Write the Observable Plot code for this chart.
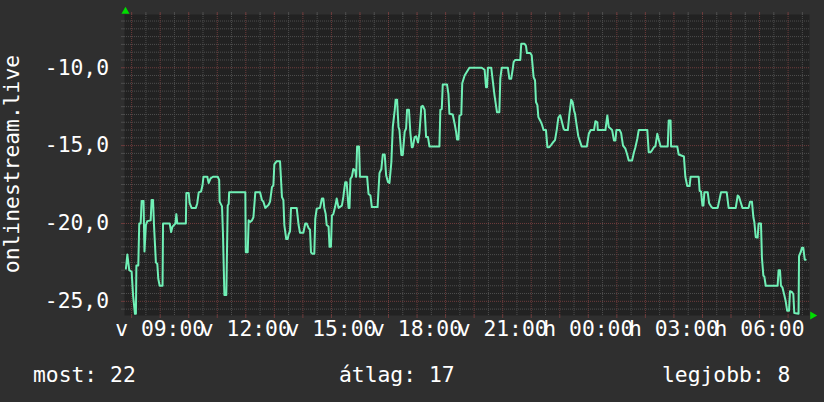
<!DOCTYPE html>
<html><head><meta charset="utf-8">
<script src="https://cdn.jsdelivr.net/npm/d3@7"></script>
<script src="https://cdn.jsdelivr.net/npm/@observablehq/plot@0.6"></script>
<style>
html,body{margin:0;padding:0;background:#2f2f2f;}
#wrap{position:relative;width:824px;height:402px;overflow:hidden;background:#2f2f2f;font-family:"DejaVu Sans Mono",monospace;color:#ffffff;}
#legend{position:relative;height:57px;}
#legend span{position:absolute;top:18px;font-size:21.33px;line-height:24px;white-space:pre;}
#ytitle{position:absolute;left:12px;top:163.5px;font-size:21.33px;line-height:24px;white-space:pre;transform:translate(-50%,-50%) rotate(-90deg);}
</style></head><body>
<div id="wrap"><div id="chart"></div><div id="legend"></div><div id="ytitle"></div></div>
<script>
// minutes since Sunday 07:45 (24 h window) and plotted value (negative rank)
const minutes = [3,6,10,15,18,22,24,25,29,31,34,36,40,42,45,48,55,57,60,62,66,69,71,74,80,81,95,98,101,107,109,111,129,130,135,137,141,150,153,156,161,164,166,174,177,181,186,196,199,200,205,207,210,214,217,219,220,254,
255,259,261,264,268,271,275,285,289,292,296,303,306,310,313,315,320,327,331,334,336,340,343,345,348,350,362,366,369,376,380,383,387,390,392,395,399,401,404,411,415,418,420,423,425,429,431,434,436,439,443,446,450,457,460,464,467,471,473,475,478,481,485,487,489,
493,495,510,513,517,520,532,536,540,543,547,550,554,557,561,564,568,570,573,576,578,582,585,589,592,594,598,601,604,606,610,613,617,620,624,627,631,634,638,641,662,664,667,669,678,681,683,690,694,697,699,702,704,708,710,715,725,
751,757,760,762,764,771,774,778,783,788,790,793,806,809,813,816,818,821,832,834,841,844,846,853,856,860,863,865,868,870,874,877,881,886,889,893,897,902,905,909,912,916,919,923,925,932,935,939,942,945,947,951,954,961,972,
976,980,987,990,994,995,1011,1015,1018,1025,1029,1032,1034,1041,1044,1048,1053,1057,1060,1067,1071,1074,1078,1081,1099,1102,1106,1109,1113,1116,1120,1123,1127,1142,1144,1148,1149,1162,1165,1176,1179,1183,1188,1190,1207,
1209,1212,1215,1217,1219,1226,1229,1233,1236,1247,1254,1266,1270,1285,1289,1292,1296,1299,1312,1315,1319,1322,1324,1327,1331,1333,1338,1340,1343,1345,1348,1373,1375,1378,1380,1383,1387,1390,1393,1397,1399,1403,1406,1408,1417,1418,1422,1424,1427,1430,1432];
const values = [-22.9,-22.0,-23.0,-23.1,-24.6,-25.8,-25.8,-22.7,-22.7,-20.0,-20.0,-18.55,-18.55,-21.8,-20.1,-19.85,-19.8,-18.5,-18.5,-20.1,-22.5,-22.6,-23.55,-24.0,-24.0,-20.0,-20.0,-20.55,-20.2,-20.0,-19.4,-20.0,-20.0,-18.05,-18.05,-18.7,-19.0,-19.0,-18.7,-18.0,-17.95,-17.55,-17.0,-17.0,-17.4,-17.1,-17.0,-17.0,-17.2,-18.6,-18.9,-20.66,-24.6,-24.6,-18.85,-18.75,-18.0,-18.0,
-21.85,-21.85,-19.8,-19.9,-19.8,-19.6,-18.0,-18.0,-18.5,-18.6,-19.0,-18.8,-18.6,-17.67,-17.55,-16.2,-16.0,-16.0,-18.3,-18.5,-20.1,-21.0,-21.0,-20.7,-20.5,-19.0,-19.0,-20.1,-20.6,-20.6,-20.0,-20.0,-20.3,-20.4,-21.85,-21.95,-21.95,-19.7,-19.06,-19.0,-18.4,-18.4,-19.0,-19.4,-20.1,-20.2,-21.5,-21.5,-19.5,-19.4,-18.9,-18.4,-19.0,-18.85,-18.3,-17.35,-17.35,-19.0,-19.0,-17.13,-17.0,-16.5,-16.6,-17.0,-15.05,
-15.05,-17.0,-17.0,-18.1,-18.2,-18.95,-18.95,-16.77,-16.5,-15.57,-15.57,-16.9,-17.35,-17.4,-16.06,-13.8,-12.74,-12.05,-12.05,-13.8,-14.0,-15.6,-15.6,-14.1,-13.9,-12.7,-12.7,-14.2,-15.1,-15.1,-14.45,-14.4,-14.8,-14.2,-12.5,-12.45,-12.7,-14.45,-14.45,-15.05,-15.05,-12.7,-12.65,-11.07,-11.07,-11.7,-12.95,-13.0,-13.6,-14.1,-14.6,-14.6,-13.1,-13.0,-11.0,-10.5,-10.0,
-10.0,-10.13,-11.25,-11.25,-10.0,-10.0,-10.8,-11.8,-12.85,-12.85,-10.7,-10.0,-10.0,-10.7,-10.7,-10.1,-9.64,-9.5,-9.5,-8.46,-8.46,-8.6,-9.06,-9.06,-9.2,-10.6,-10.8,-12.2,-12.4,-13.17,-13.4,-13.6,-14.0,-14.0,-15.1,-15.1,-14.95,-14.75,-14.65,-13.92,-13.2,-13.05,-13.4,-13.9,-14.0,-14.0,-13.05,-12.05,-12.2,-12.74,-12.95,-13.8,-14.4,-15.05,-15.05,
-14.24,-14.0,-14.0,-13.43,-13.5,-14.0,-14.0,-13.06,-13.8,-14.0,-14.67,-14.67,-14.0,-14.0,-14.2,-15.0,-15.2,-15.6,-15.95,-15.95,-15.42,-15.1,-14.56,-14.0,-14.0,-15.42,-15.42,-15.3,-15.1,-15.05,-14.24,-14.6,-15.05,-15.05,-13.38,-13.38,-15.05,-15.05,-15.57,-15.7,-17.0,-17.6,-17.6,-17.0,-17.0,
-17.9,-17.95,-18.85,-18.85,-18.0,-18.0,-18.7,-18.9,-19.0,-19.0,-18.0,-18.0,-19.0,-19.0,-18.2,-18.3,-18.7,-19.0,-19.0,-18.6,-18.6,-19.6,-19.9,-20.88,-20.9,-20.0,-20.0,-22.2,-23.35,-23.4,-24.0,-24.0,-23.0,-23.0,-24.0,-24.1,-24.6,-25.0,-25.6,-25.6,-24.35,-24.4,-24.55,-25.75,-25.8,-22.1,-21.8,-21.56,-21.56,-22.33,-22.33];

const xTickMinutes = [75,255,435,615,795,975,1155,1335];
const xTickLabels = ["v 09:00","v 12:00","v 15:00","v 18:00","v 21:00","h 00:00","h 03:00","h 06:00"];
const yTickValues = [-10,-15,-20,-25];
const yTickLabels = ["-10,0","-15,0","-20,0","-25,0"];
const yTitle = "onlinestream.live";
const legendLabels = ["most: 22","átlag: 17","legjobb: 8"];
const legendLeft = [33,339,662];

const xDomain = [0,1440];
const yDomain = [-25.91,-6.58];
const hourGrid = d3.range(15, 1440, 60);
const halfGrid = d3.range(45, 1440, 60);
const yMinor = d3.range(-25.5, -6.5, 0.5).filter(v => v % 5 !== 0);

const data = minutes.map((m,i) => ({m, v: values[i]}));

const minorCol = "#4e4e4e";
const majorCol = "#6e3c3c";

const chart = Plot.plot({
  width: 824, height: 345,
  marginLeft: 124, marginRight: 15, marginTop: 14, marginBottom: 30,
  style: {background: "transparent", color: "#ffffff", fontFamily: "'DejaVu Sans Mono', monospace", fontSize: "21.33px"},
  x: {domain: xDomain, axis: null},
  y: {domain: yDomain, axis: null},
  marks: [
    Plot.frame({fill: "#222222", stroke: null}),
    Plot.ruleY(yMinor, {stroke: minorCol, strokeDasharray: "1,1"}),
    Plot.ruleX(halfGrid, {stroke: minorCol, strokeDasharray: "1,1"}),
    Plot.ruleY(yTickValues, {stroke: majorCol, strokeDasharray: "1,1"}),
    Plot.ruleX(hourGrid, {stroke: majorCol, strokeDasharray: "1,1"}),
    Plot.axisX({anchor: "top", ticks: halfGrid, tickSize: 3, tickFormat: () => "", label: null, stroke: minorCol}),
    Plot.axisX({anchor: "top", ticks: hourGrid, tickSize: 3, tickFormat: () => "", label: null, stroke: majorCol}),
    Plot.axisX({anchor: "bottom", ticks: hourGrid, tickSize: 3, tickFormat: () => "", label: null, stroke: majorCol}),
    Plot.axisY({anchor: "left", ticks: yMinor, tickSize: 3, tickFormat: () => "", label: null, stroke: minorCol}),
    Plot.axisY({anchor: "left", ticks: yTickValues, tickSize: 3, tickFormat: () => "", label: null, stroke: majorCol}),
    Plot.line(data, {x: "m", y: "v", stroke: "#70f0b6", strokeWidth: 2}),
    Plot.text(yTickValues, {y: d => d, text: (d,i) => yTickLabels[i], frameAnchor: "left", textAnchor: "end", dx: -15.5, dy: 0, fill: "#ffffff"}),
    Plot.text(xTickMinutes, {x: d => d, text: (d,i) => xTickLabels[i], frameAnchor: "bottom", dy: 20, fill: "#ffffff"}),
    Plot.dot([0], {frameAnchor: "top-left", symbol: "triangle", r: 3, fill: "#00dd00", dx: 1, dy: -3}),
    Plot.dot([0], {frameAnchor: "bottom-right", symbol: "triangle", r: 3, fill: "#00dd00", rotate: 90, dx: 3, dy: 0})
  ]
});
document.getElementById("chart").appendChild(chart);

document.getElementById("ytitle").textContent = yTitle;
const legend = document.getElementById("legend");
legendLabels.forEach((t,i) => {
  const s = document.createElement("span");
  s.textContent = t;
  s.style.left = legendLeft[i] + "px";
  legend.appendChild(s);
});
</script>
</body></html>
